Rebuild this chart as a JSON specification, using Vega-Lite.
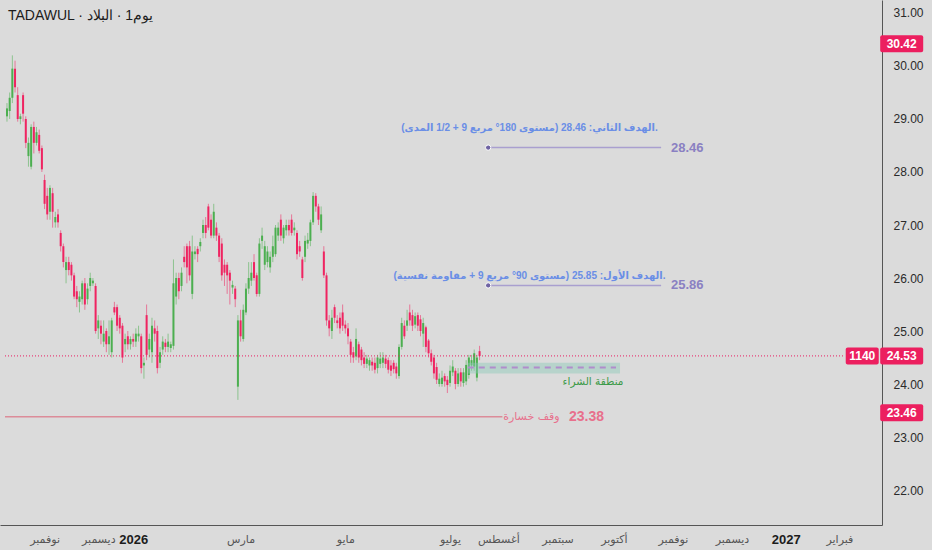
{
  "$schema": "https://vega.github.io/schema/vega-lite/v6.json",
  "width": 882,
  "height": 525,
  "autosize": {"type": "none"},
  "padding": {"left": 0, "top": 0, "right": 50, "bottom": 25},
  "background": "#dbdbdb",
  "config": {"view": {"stroke": null}, "axis": {"grid": false, "ticks": false}},
  "title": {
    "text": "TADAWUL · البلاد‎ · 1يوم",
    "anchor": "start", "frame": "group", "orient": "top",
    "offset": -23, "dx": 8,
    "font": "Liberation Sans", "fontSize": 14, "fontWeight": "normal", "color": "#1c1c1c"
  },
  "datasets": {
    "candles": [
      {"i":0,"o":29.05,"h":29.3,"l":28.95,"c":29.2},
      {"i":1,"o":29.15,"h":29.5,"l":29.0,"c":29.4},
      {"i":2,"o":29.4,"h":30.2,"l":29.3,"c":29.95},
      {"i":3,"o":29.95,"h":30.1,"l":29.5,"c":29.6},
      {"i":4,"o":29.45,"h":29.6,"l":28.95,"c":29.0},
      {"i":5,"o":29.0,"h":29.1,"l":28.9,"c":29.05},
      {"i":6,"o":29.45,"h":29.5,"l":28.95,"c":29.1},
      {"i":7,"o":29.0,"h":29.05,"l":28.45,"c":28.55},
      {"i":8,"o":28.3,"h":28.65,"l":28.1,"c":28.55},
      {"i":9,"o":28.1,"h":28.9,"l":28.05,"c":28.85},
      {"i":10,"o":28.85,"h":28.95,"l":28.35,"c":28.55},
      {"i":11,"o":28.55,"h":28.85,"l":28.5,"c":28.75},
      {"i":12,"o":28.7,"h":28.8,"l":28.35,"c":28.4},
      {"i":13,"o":28.45,"h":28.5,"l":28.0,"c":28.05},
      {"i":14,"o":27.85,"h":27.95,"l":27.3,"c":27.4},
      {"i":15,"o":27.55,"h":27.7,"l":27.1,"c":27.2},
      {"i":16,"o":27.25,"h":27.75,"l":27.1,"c":27.7},
      {"i":17,"o":27.6,"h":27.7,"l":26.95,"c":27.25},
      {"i":18,"o":27.05,"h":27.25,"l":26.95,"c":27.15},
      {"i":19,"o":27.2,"h":27.3,"l":26.95,"c":27.05},
      {"i":20,"o":26.85,"h":26.9,"l":26.5,"c":26.6},
      {"i":21,"o":26.6,"h":26.65,"l":26.2,"c":26.3},
      {"i":22,"o":26.15,"h":26.4,"l":25.9,"c":26.3},
      {"i":23,"o":26.3,"h":26.4,"l":26.05,"c":26.15},
      {"i":24,"o":26.25,"h":26.3,"l":25.95,"c":26.05},
      {"i":25,"o":26.05,"h":26.1,"l":25.6,"c":25.65},
      {"i":26,"o":25.75,"h":25.85,"l":25.45,"c":25.6},
      {"i":27,"o":25.55,"h":25.75,"l":25.35,"c":25.65},
      {"i":28,"o":25.6,"h":25.95,"l":25.5,"c":25.9},
      {"i":29,"o":25.9,"h":26.0,"l":25.4,"c":25.5},
      {"i":30,"o":25.6,"h":25.9,"l":25.5,"c":25.8},
      {"i":31,"o":25.85,"h":26.1,"l":25.75,"c":26.0},
      {"i":32,"o":25.9,"h":26.0,"l":25.85,"c":25.95},
      {"i":33,"o":25.85,"h":25.9,"l":24.95,"c":25.0},
      {"i":34,"o":25.05,"h":25.3,"l":24.85,"c":25.2},
      {"i":35,"o":25.1,"h":25.2,"l":24.75,"c":24.95},
      {"i":36,"o":24.8,"h":25.2,"l":24.7,"c":24.95},
      {"i":37,"o":25.0,"h":25.05,"l":24.6,"c":24.75},
      {"i":38,"o":24.75,"h":25.2,"l":24.55,"c":24.9},
      {"i":39,"o":24.6,"h":25.25,"l":24.5,"c":25.2},
      {"i":40,"o":25.45,"h":25.55,"l":25.3,"c":25.35},
      {"i":41,"o":25.45,"h":25.5,"l":25.0,"c":25.1},
      {"i":42,"o":25.25,"h":25.3,"l":24.95,"c":25.05},
      {"i":43,"o":25.1,"h":25.15,"l":24.4,"c":24.5},
      {"i":44,"o":24.75,"h":24.95,"l":24.6,"c":24.85},
      {"i":45,"o":24.9,"h":25.0,"l":24.65,"c":24.75},
      {"i":46,"o":24.75,"h":24.9,"l":24.65,"c":24.85},
      {"i":47,"o":24.85,"h":24.95,"l":24.7,"c":24.8},
      {"i":48,"o":24.8,"h":25.05,"l":24.7,"c":24.95},
      {"i":49,"o":24.9,"h":25.1,"l":24.8,"c":24.95},
      {"i":50,"o":24.9,"h":24.95,"l":24.2,"c":24.3},
      {"i":51,"o":24.35,"h":24.5,"l":24.1,"c":24.4},
      {"i":52,"o":25.3,"h":25.5,"l":24.45,"c":24.55},
      {"i":53,"o":24.65,"h":24.95,"l":24.5,"c":24.85},
      {"i":54,"o":24.6,"h":25.25,"l":24.4,"c":25.1},
      {"i":55,"o":25.05,"h":25.2,"l":24.8,"c":24.95},
      {"i":56,"o":25.0,"h":25.1,"l":24.2,"c":24.3},
      {"i":57,"o":24.4,"h":24.7,"l":24.3,"c":24.6},
      {"i":58,"o":24.65,"h":24.9,"l":24.55,"c":24.8},
      {"i":59,"o":24.78,"h":24.85,"l":24.6,"c":24.7},
      {"i":60,"o":24.7,"h":24.95,"l":24.6,"c":24.8},
      {"i":61,"o":24.68,"h":24.8,"l":24.6,"c":24.75},
      {"i":62,"o":24.72,"h":26.35,"l":24.65,"c":25.9},
      {"i":63,"o":25.65,"h":26.1,"l":25.5,"c":26.0},
      {"i":64,"o":26.0,"h":26.1,"l":25.6,"c":25.75},
      {"i":65,"o":25.85,"h":26.2,"l":25.75,"c":26.1},
      {"i":66,"o":26.4,"h":26.6,"l":26.2,"c":26.3},
      {"i":67,"o":26.6,"h":26.65,"l":25.9,"c":26.2},
      {"i":68,"o":26.6,"h":26.7,"l":25.95,"c":26.05},
      {"i":69,"o":25.7,"h":26.8,"l":25.6,"c":26.5},
      {"i":70,"o":26.45,"h":26.6,"l":26.35,"c":26.5},
      {"i":71,"o":26.55,"h":26.6,"l":26.3,"c":26.45},
      {"i":72,"o":26.6,"h":26.75,"l":26.5,"c":26.68},
      {"i":73,"o":26.85,"h":27.1,"l":26.75,"c":27.0},
      {"i":74,"o":27.0,"h":27.15,"l":26.75,"c":26.85},
      {"i":75,"o":27.35,"h":27.4,"l":26.9,"c":26.95},
      {"i":76,"o":27.1,"h":27.2,"l":26.75,"c":26.8},
      {"i":77,"o":26.8,"h":27.4,"l":26.75,"c":27.25},
      {"i":78,"o":26.95,"h":27.05,"l":26.7,"c":26.8},
      {"i":79,"o":26.8,"h":26.85,"l":26.3,"c":26.4},
      {"i":80,"o":26.65,"h":26.75,"l":25.95,"c":26.05},
      {"i":81,"o":26.25,"h":26.35,"l":25.85,"c":26.1},
      {"i":82,"o":26.25,"h":26.3,"l":25.7,"c":26.05},
      {"i":83,"o":26.1,"h":26.15,"l":25.5,"c":25.95},
      {"i":84,"o":25.82,"h":25.95,"l":25.7,"c":25.87},
      {"i":85,"o":25.8,"h":25.85,"l":25.45,"c":25.6},
      {"i":86,"o":23.95,"h":25.3,"l":23.7,"c":25.2},
      {"i":87,"o":25.2,"h":25.4,"l":24.8,"c":24.9},
      {"i":88,"o":24.85,"h":25.5,"l":24.8,"c":25.4},
      {"i":89,"o":25.35,"h":25.9,"l":25.3,"c":25.8},
      {"i":90,"o":25.8,"h":26.3,"l":25.7,"c":26.0},
      {"i":91,"o":25.95,"h":26.3,"l":25.85,"c":26.1},
      {"i":92,"o":26.3,"h":26.45,"l":25.95,"c":26.0},
      {"i":93,"o":26.05,"h":26.1,"l":25.65,"c":25.7},
      {"i":94,"o":25.7,"h":26.75,"l":25.65,"c":26.65},
      {"i":95,"o":26.7,"h":26.95,"l":26.55,"c":26.8},
      {"i":96,"o":26.25,"h":26.7,"l":26.15,"c":26.6},
      {"i":97,"o":26.3,"h":26.6,"l":26.2,"c":26.5},
      {"i":98,"o":26.2,"h":26.5,"l":26.1,"c":26.4},
      {"i":99,"o":26.4,"h":26.8,"l":26.3,"c":26.6},
      {"i":100,"o":26.45,"h":27.0,"l":26.4,"c":26.95},
      {"i":101,"o":26.8,"h":27.05,"l":26.7,"c":26.95},
      {"i":102,"o":27.1,"h":27.2,"l":26.7,"c":26.8},
      {"i":103,"o":26.75,"h":27.0,"l":26.65,"c":26.95},
      {"i":104,"o":26.9,"h":27.1,"l":26.8,"c":27.0},
      {"i":105,"o":27.0,"h":27.1,"l":26.8,"c":26.9},
      {"i":106,"o":27.1,"h":27.2,"l":26.8,"c":26.85},
      {"i":107,"o":26.9,"h":27.05,"l":26.8,"c":26.95},
      {"i":108,"o":26.85,"h":26.9,"l":26.35,"c":26.45},
      {"i":109,"o":26.6,"h":26.7,"l":26.4,"c":26.5},
      {"i":110,"o":26.35,"h":26.4,"l":25.95,"c":26.0},
      {"i":111,"o":26.4,"h":26.8,"l":26.3,"c":26.7},
      {"i":112,"o":26.65,"h":26.85,"l":26.55,"c":26.72},
      {"i":113,"o":26.7,"h":27.1,"l":26.6,"c":27.05},
      {"i":114,"o":27.05,"h":27.62,"l":27.0,"c":27.55},
      {"i":115,"o":27.55,"h":27.6,"l":27.25,"c":27.35},
      {"i":116,"o":27.35,"h":27.4,"l":27.0,"c":27.1},
      {"i":117,"o":26.9,"h":27.35,"l":26.85,"c":27.2},
      {"i":118,"o":26.5,"h":26.6,"l":26.0,"c":26.05},
      {"i":119,"o":26.05,"h":26.1,"l":25.1,"c":25.2},
      {"i":120,"o":25.2,"h":25.3,"l":24.9,"c":25.05},
      {"i":121,"o":25.0,"h":25.4,"l":24.85,"c":25.25},
      {"i":122,"o":25.45,"h":25.5,"l":25.15,"c":25.25},
      {"i":123,"o":25.2,"h":25.3,"l":25.05,"c":25.15},
      {"i":124,"o":25.25,"h":25.35,"l":24.95,"c":25.05},
      {"i":125,"o":25.35,"h":25.5,"l":25.0,"c":25.1},
      {"i":126,"o":25.12,"h":25.2,"l":24.95,"c":25.05},
      {"i":127,"o":25.05,"h":25.15,"l":24.75,"c":24.9},
      {"i":128,"o":24.8,"h":24.85,"l":24.4,"c":24.55},
      {"i":129,"o":24.6,"h":24.7,"l":24.4,"c":24.5},
      {"i":130,"o":24.52,"h":25.05,"l":24.45,"c":24.85},
      {"i":131,"o":24.75,"h":24.8,"l":24.4,"c":24.5},
      {"i":132,"o":24.65,"h":24.7,"l":24.35,"c":24.45},
      {"i":133,"o":24.5,"h":24.6,"l":24.3,"c":24.38},
      {"i":134,"o":24.38,"h":24.55,"l":24.3,"c":24.48},
      {"i":135,"o":24.35,"h":24.5,"l":24.25,"c":24.45},
      {"i":136,"o":24.42,"h":24.5,"l":24.25,"c":24.35},
      {"i":137,"o":24.4,"h":24.5,"l":24.2,"c":24.27},
      {"i":138,"o":24.3,"h":24.55,"l":24.2,"c":24.5},
      {"i":139,"o":24.38,"h":24.6,"l":24.3,"c":24.48},
      {"i":140,"o":24.4,"h":24.6,"l":24.3,"c":24.5},
      {"i":141,"o":24.48,"h":24.55,"l":24.3,"c":24.38},
      {"i":142,"o":24.45,"h":24.5,"l":24.2,"c":24.27},
      {"i":143,"o":24.35,"h":24.45,"l":24.15,"c":24.25},
      {"i":144,"o":24.4,"h":24.45,"l":24.2,"c":24.28},
      {"i":145,"o":24.33,"h":24.4,"l":24.1,"c":24.2},
      {"i":146,"o":24.15,"h":24.75,"l":24.1,"c":24.7},
      {"i":147,"o":24.7,"h":25.25,"l":24.65,"c":25.15},
      {"i":148,"o":25.1,"h":25.2,"l":24.85,"c":24.9},
      {"i":149,"o":25.1,"h":25.4,"l":25.0,"c":25.2},
      {"i":150,"o":25.35,"h":25.5,"l":25.1,"c":25.2},
      {"i":151,"o":25.3,"h":25.4,"l":25.0,"c":25.1},
      {"i":152,"o":25.12,"h":25.35,"l":25.05,"c":25.28},
      {"i":153,"o":25.3,"h":25.35,"l":25.0,"c":25.1},
      {"i":154,"o":25.22,"h":25.3,"l":24.9,"c":25.0},
      {"i":155,"o":24.95,"h":25.25,"l":24.7,"c":25.15},
      {"i":156,"o":25.07,"h":25.1,"l":24.6,"c":24.7},
      {"i":157,"o":24.82,"h":24.85,"l":24.5,"c":24.58},
      {"i":158,"o":24.58,"h":24.65,"l":24.35,"c":24.42},
      {"i":159,"o":24.5,"h":24.55,"l":24.1,"c":24.2},
      {"i":160,"o":24.32,"h":24.4,"l":24.0,"c":24.08},
      {"i":161,"o":24.0,"h":24.2,"l":23.95,"c":24.1},
      {"i":162,"o":24.0,"h":24.25,"l":23.95,"c":24.12},
      {"i":163,"o":24.15,"h":24.2,"l":23.95,"c":24.05},
      {"i":164,"o":24.08,"h":24.15,"l":23.83,"c":23.98},
      {"i":165,"o":24.02,"h":24.35,"l":23.95,"c":24.25},
      {"i":166,"o":24.22,"h":24.45,"l":24.15,"c":24.33},
      {"i":167,"o":24.25,"h":24.3,"l":23.9,"c":24.0},
      {"i":168,"o":24.0,"h":24.3,"l":23.95,"c":24.2},
      {"i":169,"o":24.22,"h":24.3,"l":23.95,"c":24.05},
      {"i":170,"o":24.02,"h":24.3,"l":23.95,"c":24.22},
      {"i":171,"o":24.05,"h":24.45,"l":23.98,"c":24.36},
      {"i":172,"o":24.17,"h":24.55,"l":24.1,"c":24.5},
      {"i":173,"o":24.35,"h":24.55,"l":24.25,"c":24.45},
      {"i":174,"o":24.33,"h":24.65,"l":24.25,"c":24.58},
      {"i":175,"o":24.12,"h":24.55,"l":24.05,"c":24.5},
      {"i":176,"o":24.62,"h":24.72,"l":24.45,"c":24.53}
    ],
    "tags": [
      {"p": 30.42, "t": "30.42"},
      {"p": 24.53, "t": "24.53"},
      {"p": 23.46, "t": "23.46"}
    ],
    "targets": [
      {"p": 28.46, "t": "28.46"},
      {"p": 25.86, "t": "25.86"}
    ],
    "notes": [
      {"p": 28.83, "t": "\u2067.الهدف الثاني: 28.46 (مستوى 180° مربع 9 + 1/2 المدى)\u2069"},
      {"p": 26.04, "t": "\u2067.الهدف الأول: 25.85 (مستوى 90° مربع 9 + مقاومة نفسية)\u2069"}
    ]
  },
  "layer": [
    {
      "data": {"name": "candles"},
      "mark": {"type": "rule", "strokeWidth": 1, "opacity": 0.55},
      "encoding": {
        "x": {
          "field": "i", "type": "quantitative",
          "scale": {"domain": [-0.736, 324.0], "nice": false, "zero": false},
          "axis": {
            "title": null, "orient": "bottom",
            "values": [14, 34, 47, 87, 126, 165, 183, 205, 226, 248, 270, 290, 310],
            "labelExpr": "{'14':'نوفمبر','34':'ديسمبر','47':'2026','87':'مارس','126':'مايو','165':'يوليو','183':'أغسطس','205':'سبتمبر','226':'أكتوبر','248':'نوفمبر','270':'ديسمبر','290':'2027','310':'فبراير'}[datum.value]",
            "labelFont": "Liberation Sans, DejaVu Sans",
            "labelFontSize": {"condition": {"test": "datum.value == 47 || datum.value == 290", "value": 13}, "value": 11},
            "labelFontWeight": {"condition": {"test": "datum.value == 47 || datum.value == 290", "value": "bold"}, "value": "normal"},
            "labelColor": {"condition": {"test": "datum.value == 47 || datum.value == 290", "value": "#1c1c1c"}, "value": "#555555"},
            "labelPadding": 8, "labelOverlap": false, "labelFlush": false,
            "domainColor": "#555555", "domainWidth": 1
          }
        },
        "y": {
          "field": "l", "type": "quantitative",
          "scale": {"domain": [21.34, 31.245], "nice": false, "zero": false},
          "axis": {
            "title": null, "orient": "right",
            "values": [22, 23, 24, 25, 26, 27, 28, 29, 30, 31],
            "format": ".2f",
            "labelFont": "Liberation Sans", "labelFontSize": 12, "labelColor": "#2a2a2a",
            "labelPadding": 11, "labelOverlap": false,
            "domainColor": "#555555", "domainWidth": 1
          }
        },
        "y2": {"field": "h"},
        "color": {"condition": {"test": "datum.c >= datum.o", "value": "#4caf50"}, "value": "#ef2461"}
      }
    },
    {
      "data": {"name": "candles"},
      "mark": {"type": "bar", "width": 2},
      "encoding": {
        "x": {"field": "i", "type": "quantitative", "title": null},
        "y": {"field": "o", "type": "quantitative", "title": null},
        "y2": {"field": "c"},
        "color": {"condition": {"test": "datum.c >= datum.o", "value": "#4caf50"}, "value": "#ef2461"}
      }
    },
    {
      "data": {"values": [{"p": 24.53}]},
      "mark": {"type": "rule", "color": "#e91e63", "strokeWidth": 1, "strokeDash": [1, 2]},
      "encoding": {
        "x": {"datum": -0.736, "type": "quantitative", "title": null},
        "x2": {"datum": 311.5},
        "y": {"field": "p", "type": "quantitative", "title": null}
      }
    },
    {
      "data": {"values": [{"p": 23.38}]},
      "mark": {"type": "rule", "color": "#dc8c99", "strokeWidth": 1.5},
      "encoding": {
        "x": {"datum": -0.736, "type": "quantitative", "title": null},
        "x2": {"datum": 184.5},
        "y": {"field": "p", "type": "quantitative", "title": null}
      }
    },
    {
      "data": {"values": [{"p": 23.38, "t": "وقف خسارة"}]},
      "mark": {"type": "text", "font": "DejaVu Sans", "fontSize": 11, "color": "#e8708c", "align": "center", "baseline": "middle"},
      "encoding": {
        "x": {"datum": 195.3, "type": "quantitative", "title": null},
        "y": {"field": "p", "type": "quantitative", "title": null},
        "text": {"field": "t"}
      }
    },
    {
      "data": {"values": [{"p": 23.38, "t": "23.38"}]},
      "mark": {"type": "text", "font": "Liberation Sans", "fontSize": 14, "fontWeight": "bold", "color": "#e8708c", "align": "center", "baseline": "middle"},
      "encoding": {
        "x": {"datum": 215.8, "type": "quantitative", "title": null},
        "y": {"field": "p", "type": "quantitative", "title": null},
        "text": {"field": "t"}
      }
    },
    {
      "data": {"values": [{"lo": 24.2, "hi": 24.4}]},
      "mark": {"type": "rect", "color": "#8ccab8", "opacity": 0.45},
      "encoding": {
        "x": {"datum": 171.6, "type": "quantitative", "title": null},
        "x2": {"datum": 228.3},
        "y": {"field": "lo", "type": "quantitative", "title": null},
        "y2": {"field": "hi"}
      }
    },
    {
      "data": {"values": [{"p": 24.31}]},
      "mark": {"type": "rule", "color": "#b08ccc", "strokeWidth": 2, "strokeDash": [6, 5]},
      "encoding": {
        "x": {"datum": 171.6, "type": "quantitative", "title": null},
        "x2": {"datum": 226.8},
        "y": {"field": "p", "type": "quantitative", "title": null}
      }
    },
    {
      "data": {"values": [{"p": 24.04, "t": "منطقة الشراء"}]},
      "mark": {"type": "text", "font": "DejaVu Sans", "fontSize": 10.5, "color": "#3b9a48", "align": "center", "baseline": "middle", "dx": -27},
      "encoding": {
        "x": {"datum": 228.3, "type": "quantitative", "title": null},
        "y": {"field": "p", "type": "quantitative", "title": null},
        "text": {"field": "t"}
      }
    },
    {
      "data": {"name": "targets"},
      "mark": {"type": "rule", "color": "#a99fcf", "strokeWidth": 1.5},
      "encoding": {
        "x": {"datum": 179.2, "type": "quantitative", "title": null},
        "x2": {"datum": 243.6},
        "y": {"field": "p", "type": "quantitative", "title": null}
      }
    },
    {
      "data": {"name": "targets"},
      "mark": {"type": "point", "filled": true, "size": 28, "color": "#6f63a3", "stroke": "#ffffff", "strokeWidth": 1, "opacity": 1},
      "encoding": {
        "x": {"datum": 179.2, "type": "quantitative", "title": null},
        "y": {"field": "p", "type": "quantitative", "title": null}
      }
    },
    {
      "data": {"name": "targets"},
      "mark": {"type": "text", "font": "Liberation Sans", "fontSize": 13, "fontWeight": "bold", "color": "#8a80c2", "align": "left", "baseline": "middle"},
      "encoding": {
        "x": {"datum": 247.3, "type": "quantitative", "title": null},
        "y": {"field": "p", "type": "quantitative", "title": null},
        "text": {"field": "t"}
      }
    },
    {
      "data": {"name": "notes"},
      "mark": {"type": "text", "font": "Liberation Sans, DejaVu Sans", "fontSize": 10, "fontWeight": "bold", "color": "#6a8ee6", "align": "center", "baseline": "middle"},
      "encoding": {
        "x": {"datum": 194.6, "type": "quantitative", "title": null},
        "y": {"field": "p", "type": "quantitative", "title": null},
        "text": {"field": "t"}
      }
    },
    {
      "data": {"values": [{"p": 24.53}]},
      "mark": {"type": "rect", "width": 33, "height": 17, "color": "#ec1f5f", "cornerRadius": 2},
      "encoding": {
        "x": {"datum": 318.5, "type": "quantitative", "title": null},
        "y": {"field": "p", "type": "quantitative", "title": null}
      }
    },
    {
      "data": {"values": [{"p": 24.53, "t": "1140"}]},
      "mark": {"type": "text", "font": "Liberation Sans", "fontSize": 12, "fontWeight": "bold", "color": "#ffffff", "align": "center", "baseline": "middle"},
      "encoding": {
        "x": {"datum": 318.5, "type": "quantitative", "title": null},
        "y": {"field": "p", "type": "quantitative", "title": null},
        "text": {"field": "t"}
      }
    },
    {
      "data": {"name": "tags"},
      "mark": {"type": "rect", "width": 43, "height": 17, "color": "#ec1f5f", "cornerRadius": 2},
      "encoding": {
        "x": {"datum": 333.2, "type": "quantitative", "title": null},
        "y": {"field": "p", "type": "quantitative", "title": null}
      }
    },
    {
      "data": {"name": "tags"},
      "mark": {"type": "text", "font": "Liberation Sans", "fontSize": 12, "fontWeight": "bold", "color": "#ffffff", "align": "center", "baseline": "middle"},
      "encoding": {
        "x": {"datum": 333.2, "type": "quantitative", "title": null},
        "y": {"field": "p", "type": "quantitative", "title": null},
        "text": {"field": "t"}
      }
    }
  ]
}
